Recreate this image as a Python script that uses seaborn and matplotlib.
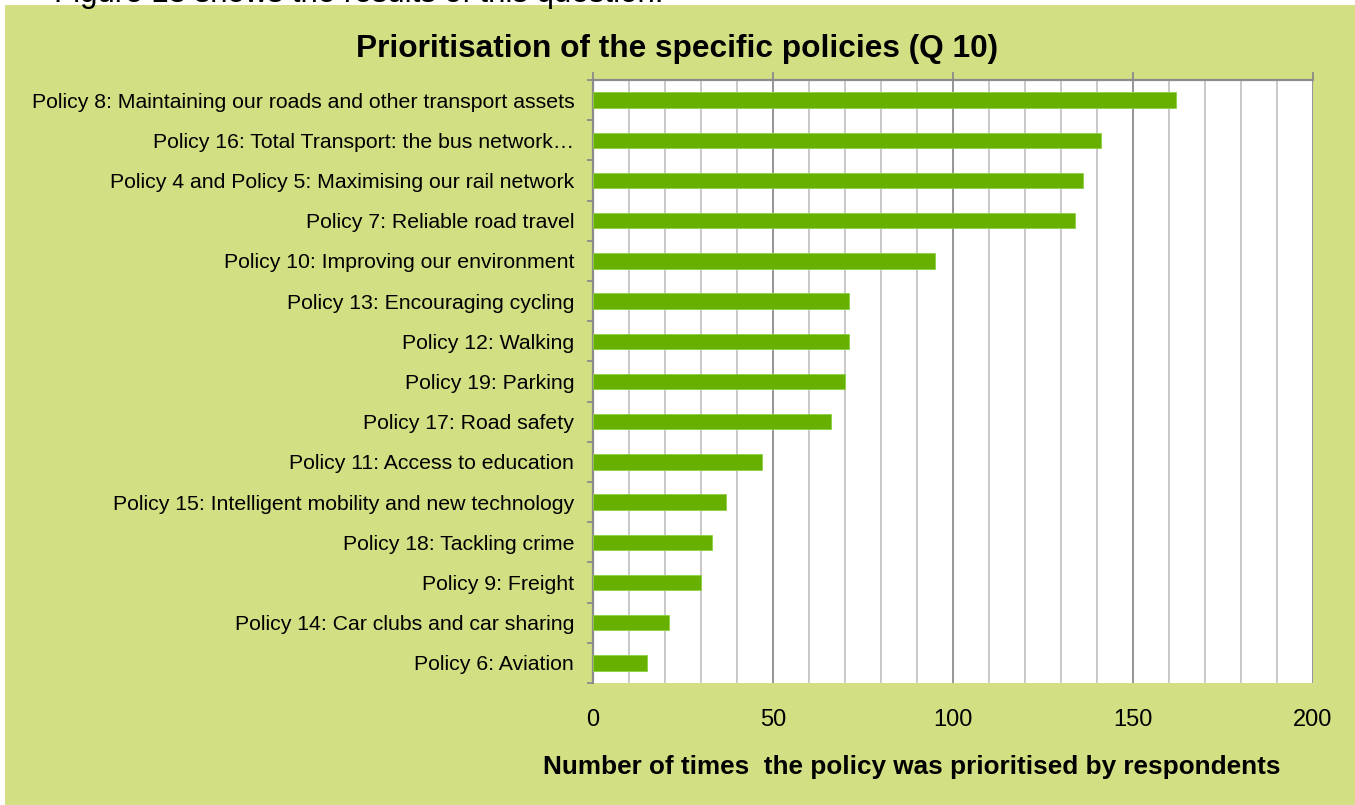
import numpy as np
import pandas as pd
import matplotlib.pyplot as plt
import seaborn as sns
from matplotlib.patches import Rectangle

policies = [
    'Policy 8: Maintaining our roads and other transport assets',
    'Policy 16: Total Transport: the bus network\u2026',
    'Policy 4 and Policy 5: Maximising our rail network',
    'Policy 7: Reliable road travel',
    'Policy 10: Improving our environment',
    'Policy 13: Encouraging cycling',
    'Policy 12: Walking',
    'Policy 19: Parking',
    'Policy 17: Road safety',
    'Policy 11: Access to education',
    'Policy 15: Intelligent mobility and new technology',
    'Policy 18: Tackling crime',
    'Policy 9: Freight',
    'Policy 14: Car clubs and car sharing',
    'Policy 6: Aviation',
]
counts = [162, 141, 136, 134, 95, 71, 71, 70, 66, 47, 37, 33, 30, 21, 15]
x_ticks = [0, 50, 100, 150, 200]

BG = '#d3df82'
BAR = '#68b000'
MAJOR = '#8c8c8c'
MINOR = '#c4c4c4'

sns.set_theme(style='white')
plt.rcParams['font.family'] = ['Liberation Sans', 'DejaVu Sans']
plt.rcParams['text.color'] = 'black'
plt.rcParams['xtick.color'] = 'black'
plt.rcParams['ytick.color'] = 'black'
plt.rcParams['axes.labelcolor'] = 'black'

df = pd.DataFrame({'policy': policies, 'count': counts})

fig = plt.figure(figsize=(13.55, 8.05), dpi=100)
fig.patch.set_facecolor('white')
# green panel behind the chart, the page text above it is cut off like in the source
fig.patches.append(Rectangle((5 / 1355, 0), 1, 1 - 5 / 805, transform=fig.transFigure,
                             facecolor=BG, edgecolor='none', zorder=-10))
fig.text(54 / 1355, 1 - 2 / 805, 'Figure 13 shows the results of this question.',
         fontsize=22.5, va='baseline', ha='left')

ax = fig.add_axes([593 / 1355, 1 - 683 / 805, 720 / 1355, 603 / 805])
ax.set_facecolor('white')
sns.barplot(data=df, x='count', y='policy', color=BAR, saturation=1, width=0.38, ax=ax,
            edgecolor='#8fd040', linewidth=0.6, zorder=3)

ax.set_xlim(0, 200)
ax.set_ylim(14.5, -0.5)

# grid: minor every 10, major every 50
for v in np.arange(10, 200, 10):
    if v % 50:
        ax.axvline(v, color=MINOR, lw=1.3, zorder=1)
for v in x_ticks[1:]:
    ax.axvline(v, color=MAJOR, lw=1.3, zorder=1)

ax.set_xticks(x_ticks)
ax.tick_params(axis='x', which='major', top=True, bottom=False, labeltop=False,
               labelbottom=True, direction='out', length=6, width=1.3, color=MAJOR,
               pad=13, labelsize=17, labelcolor='black')

ax.set_yticks(np.arange(-0.5, 15, 1), minor=True)
ax.tick_params(axis='y', which='major', left=False, pad=7.5, labelsize=15.3,
               labelcolor='black')
ax.tick_params(axis='y', which='minor', left=True, direction='out', length=4,
               width=1.3, color=MAJOR)

for side in ['bottom', 'right']:
    ax.spines[side].set_visible(False)
for side in ['top', 'left']:
    ax.spines[side].set_color(MAJOR)
    ax.spines[side].set_linewidth(1.6)

ax.set_ylabel('')
ax.set_xlabel('Number of times  the policy was prioritised by respondents',
              fontsize=18.8, fontweight='bold')
ax.xaxis.set_label_coords((912 - 593) / 720, -(755 - 683) / 603)

fig.text(0.5, 1 - 49 / 805, 'Prioritisation of the specific policies (Q 10)',
         fontsize=22.8, fontweight='bold', ha='center', va='center')

fig.savefig('out.png', dpi=100, facecolor=fig.get_facecolor())
